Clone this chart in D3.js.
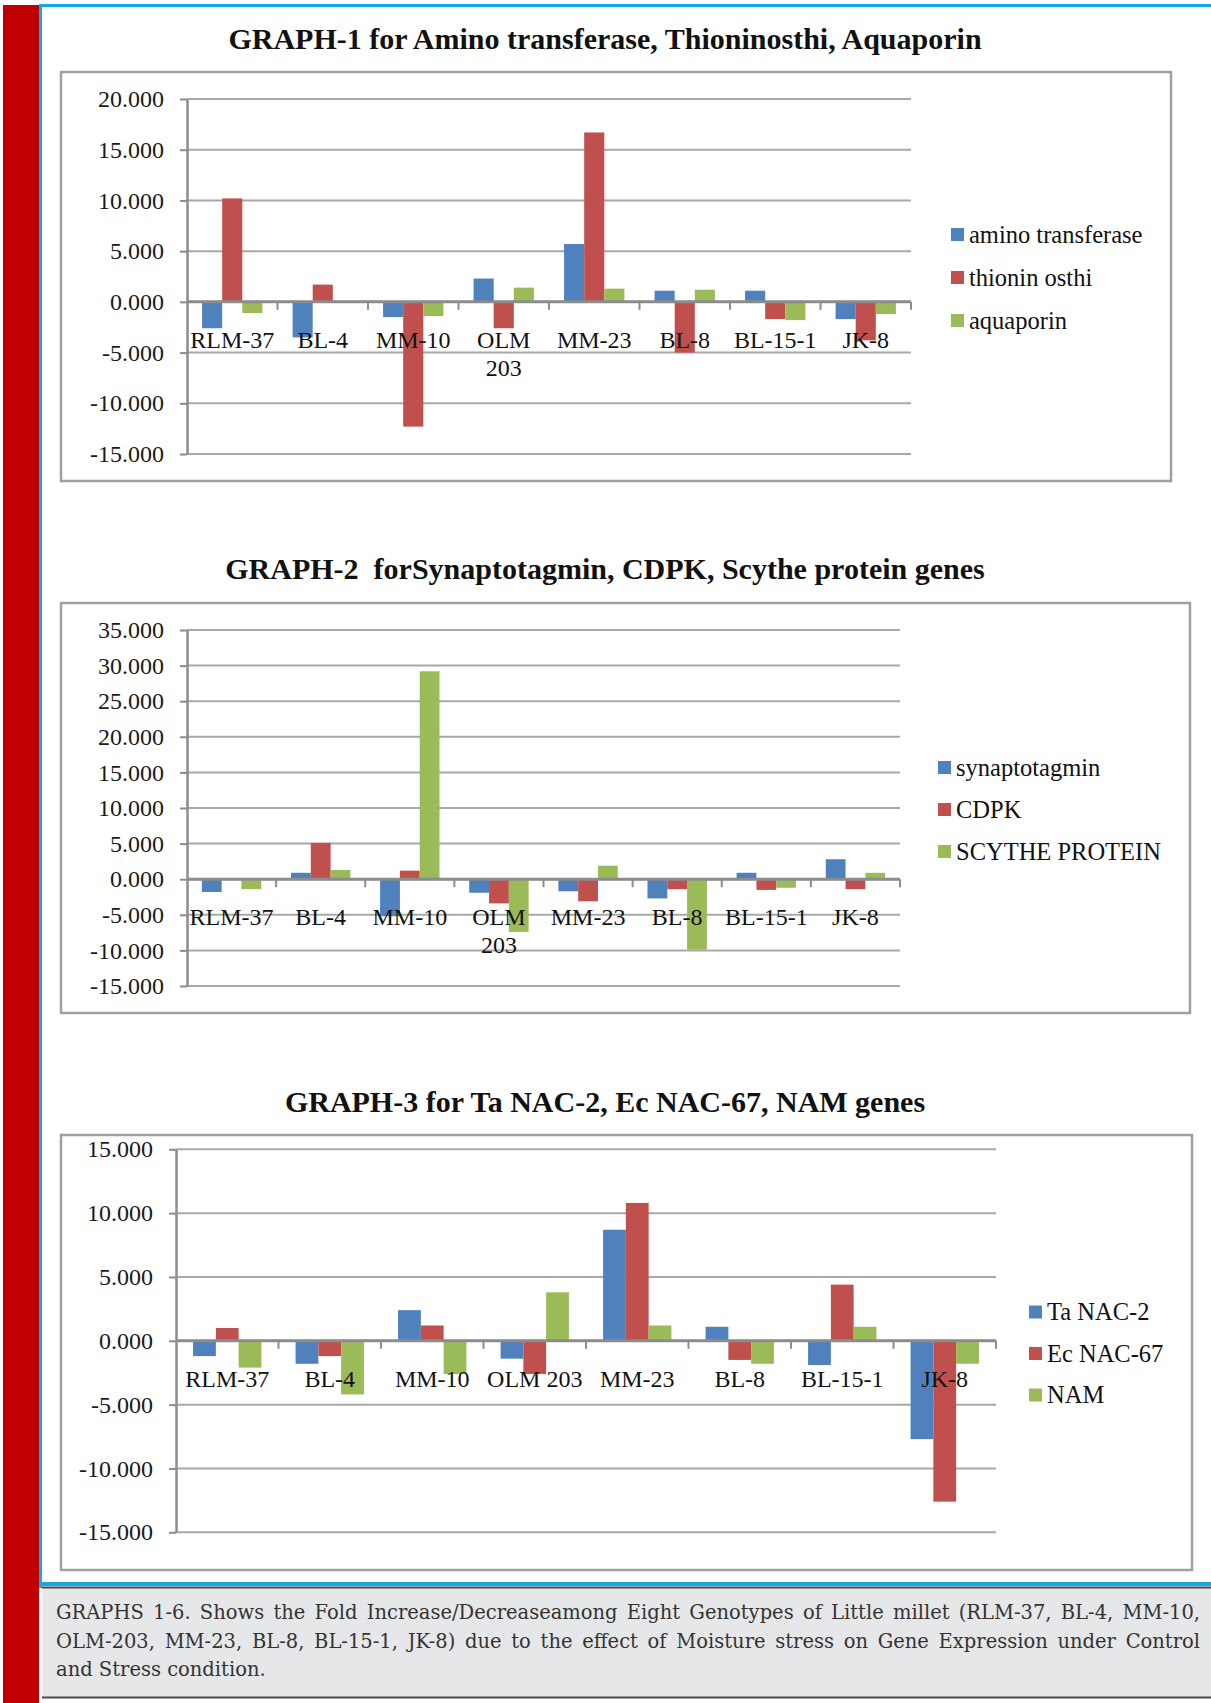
<!DOCTYPE html>
<html>
<head>
<meta charset="utf-8">
<script src="https://cdn.jsdelivr.net/npm/d3@7"></script>
<style>
  body { margin: 0; background: #fff; }
  svg { display: block; }
</style>
</head>
<body>
<svg id="page" width="1211" height="1703"></svg>
<script>
// Genotypes shared by all three graphs
const genotypes = ["RLM-37", "BL-4", "MM-10", "OLM 203", "MM-23", "BL-8", "BL-15-1", "JK-8"];
const seriesColors = ["#4f81bd", "#c0504d", "#9bbb59"];

// GRAPH-1
const graph1Title = "GRAPH-1 for Amino transferase, Thioninosthi, Aquaporin";
const graph1Series = ["amino transferase", "thionin osthi", "aquaporin"];
const aminoTransferase = [-2.6, -3.5, -1.5, 2.3, 5.7, 1.1, 1.1, -1.7];
const thioninOsthi     = [10.2, 1.7, -12.3, -2.6, 16.7, -5.0, -1.7, -3.8];
const aquaporin        = [-1.1, 0.0, -1.4, 1.4, 1.3, 1.2, -1.8, -1.2];
const graph1Ticks = [-15, -10, -5, 0, 5, 10, 15, 20];

// GRAPH-2
const graph2Title = "GRAPH-2  forSynaptotagmin, CDPK, Scythe protein genes";
const graph2Series = ["synaptotagmin", "CDPK", "SCYTHE PROTEIN"];
const synaptotagmin = [-1.8, 0.9, -5.2, -1.9, -1.7, -2.7, 0.9, 2.8];
const cdpk          = [0.0, 5.1, 1.2, -3.4, -3.1, -1.4, -1.5, -1.4];
const scytheProtein = [-1.4, 1.3, 29.2, -7.4, 1.9, -9.9, -1.2, 0.9];
const graph2Ticks = [-15, -10, -5, 0, 5, 10, 15, 20, 25, 30, 35];

// GRAPH-3
const graph3Title = "GRAPH-3 for Ta NAC-2, Ec NAC-67, NAM genes";
const graph3Series = ["Ta NAC-2", "Ec NAC-67", "NAM"];
const taNac2  = [-1.2, -1.8, 2.4, -1.4, 8.7, 1.1, -1.9, -7.7];
const ecNac67 = [1.0, -1.2, 1.2, -2.6, 10.8, -1.5, 4.4, -12.6];
const nam     = [-2.1, -4.2, -2.6, 3.8, 1.2, -1.8, 1.1, -1.8];
const graph3Ticks = [-15, -10, -5, 0, 5, 10, 15];

const captionLines = [
  "GRAPHS 1-6. Shows the Fold Increase/Decreaseamong Eight Genotypes of Little millet (RLM-37, BL-4, MM-10,",
  "OLM-203, MM-23, BL-8, BL-15-1, JK-8) due to the effect of Moisture stress on Gene Expression under Control",
  "and Stress condition."
];

const charts = [
  { title: graph1Title, series: graph1Series, values: [aminoTransferase, thioninOsthi, aquaporin], ticks: graph1Ticks,
    titleY: 49, box: { x: 61, y: 72, w: 1110, h: 409 },
    plot: { left: 187, right: 911, top: 99, bottom: 454 }, legend: { x: 951, y: 234.5, gap: 43 } },
  { title: graph2Title, series: graph2Series, values: [synaptotagmin, cdpk, scytheProtein], ticks: graph2Ticks,
    titleY: 579, box: { x: 61, y: 603, w: 1129, h: 410 },
    plot: { left: 187, right: 900, top: 630, bottom: 986 }, legend: { x: 938, y: 767.5, gap: 42 } },
  { title: graph3Title, series: graph3Series, values: [taNac2, ecNac67, nam], ticks: graph3Ticks,
    titleY: 1112, box: { x: 61, y: 1135, w: 1131, h: 435 },
    plot: { left: 176, right: 996, top: 1149.3, bottom: 1532.3 }, legend: { x: 1029, y: 1312, gap: 41.5 } }
];

const svg = d3.select("#page");
const serif = "'Liberation Serif', 'Times New Roman', serif";
const fmt = v => d3.format(".3f")(v).replace("\u2212", "-");

// page decoration: red side band and blue frame
svg.append("rect").attr("x", 3).attr("y", 5).attr("width", 36).attr("height", 1698).attr("fill", "#c00000");
svg.append("rect").attr("x", 39).attr("y", 4).attr("width", 1172).attr("height", 3).attr("fill", "#13a8e6");
svg.append("rect").attr("x", 39).attr("y", 4).attr("width", 3).attr("height", 1584).attr("fill", "#13a8e6");
svg.append("rect").attr("x", 39).attr("y", 1582).attr("width", 1172).attr("height", 4).attr("fill", "#13a8e6");

function drawChart(c) {
  const g = svg.append("g");

  g.append("rect")
    .attr("x", c.box.x).attr("y", c.box.y).attr("width", c.box.w).attr("height", c.box.h)
    .attr("fill", "#fff").attr("stroke", "#a0a0a0").attr("stroke-width", 2.5);

  g.append("text")
    .attr("x", 605).attr("y", c.titleY)
    .attr("text-anchor", "middle")
    .attr("font-family", serif).attr("font-weight", "bold").attr("font-size", 30)
    .style("white-space", "pre")
    .attr("fill", "#111")
    .text(c.title);

  const y = d3.scaleLinear().domain(d3.extent(c.ticks)).range([c.plot.bottom, c.plot.top]);
  const x0 = d3.scaleBand().domain(genotypes).range([c.plot.left, c.plot.right])
    .paddingInner(1 / 3).paddingOuter(1 / 6);
  const x1 = d3.scaleBand().domain(c.series).range([0, x0.bandwidth()]);

  // horizontal gridlines
  g.append("g").selectAll("line").data(c.ticks).join("line")
    .attr("x1", c.plot.left).attr("x2", c.plot.right)
    .attr("y1", d => y(d)).attr("y2", d => y(d))
    .attr("stroke", "#a8a8a8").attr("stroke-width", 2);

  // bars
  c.series.forEach((s, si) => {
    g.append("g").attr("fill", seriesColors[si])
      .selectAll("rect").data(c.values[si]).join("rect")
      .attr("x", (d, i) => x0(genotypes[i]) + x1(s))
      .attr("width", x1.bandwidth())
      .attr("y", d => y(Math.max(0, d)))
      .attr("height", d => Math.abs(y(d) - y(0)));
  });

  // value axis
  const ya = g.append("g").attr("transform", `translate(${c.plot.left},0)`)
    .call(d3.axisLeft(y).tickValues(c.ticks).tickFormat(fmt).tickSize(7).tickSizeOuter(0).tickPadding(16));
  ya.select(".domain").attr("stroke", "#8c8c8c").attr("stroke-width", 2.5);
  ya.selectAll(".tick line").attr("stroke", "#8c8c8c").attr("stroke-width", 2);
  ya.selectAll(".tick text").attr("font-family", serif).attr("font-size", 24).attr("fill", "#1a1a1a");

  // category axis along zero
  const y0 = y(0);
  g.append("line").attr("x1", c.plot.left).attr("x2", c.plot.right).attr("y1", y0).attr("y2", y0)
    .attr("stroke", "#8c8c8c").attr("stroke-width", 3);
  const step = x0.step();
  g.append("g").selectAll("line").data(genotypes).join("line")
    .attr("x1", d => x0(d) + x0.bandwidth() + step / 6)
    .attr("x2", d => x0(d) + x0.bandwidth() + step / 6)
    .attr("y1", y0).attr("y2", y0 + 8)
    .attr("stroke", "#8c8c8c").attr("stroke-width", 2);

  const labels = g.append("g").attr("font-family", serif).attr("font-size", 24)
    .attr("fill", "#111").attr("text-anchor", "middle");
  genotypes.forEach(name => {
    const cx = x0(name) + x0.bandwidth() / 2;
    const t = labels.append("text").attr("x", cx).attr("y", y0 + 46).text(name);
    if (t.node().getComputedTextLength() > step - 2 && name.includes(" ")) {
      t.text(null);
      name.split(" ").forEach((w, k) => {
        t.append("tspan").attr("x", cx).attr("dy", k === 0 ? 0 : 28).text(w);
      });
    }
  });

  // legend
  const lg = g.append("g").attr("font-family", serif).attr("font-size", 24.5).attr("fill", "#111");
  c.series.forEach((s, si) => {
    const ly = c.legend.y + si * c.legend.gap;
    lg.append("rect").attr("x", c.legend.x).attr("y", ly - 6.5).attr("width", 13).attr("height", 13)
      .attr("fill", seriesColors[si]);
    lg.append("text").attr("x", c.legend.x + 18).attr("y", ly).attr("dy", "0.33em").text(s);
  });
}

charts.forEach(drawChart);

// caption panel
svg.append("rect").attr("x", 42).attr("y", 1587).attr("width", 1169).attr("height", 111).attr("fill", "#e6e7e8");
svg.append("line").attr("x1", 42).attr("x2", 1211).attr("y1", 1587.5).attr("y2", 1587.5)
  .attr("stroke", "#4a4a4a").attr("stroke-width", 2);
svg.append("line").attr("x1", 42).attr("x2", 1211).attr("y1", 1697.5).attr("y2", 1697.5)
  .attr("stroke", "#4a4a4a").attr("stroke-width", 2);

const capLeft = 56, capRight = 1200;
const cap = svg.append("g")
  .attr("font-family", "'DejaVu Serif', serif")
  .attr("font-size", 19.5).attr("fill", "#333");
captionLines.forEach((line, i) => {
  const t = cap.append("text").attr("x", capLeft).attr("y", 1619 + i * 28.5).text(line);
  if (i < captionLines.length - 1) {
    const natural = t.node().getComputedTextLength();
    const spaces = (line.match(/ /g) || []).length;
    const extra = (capRight - capLeft) - natural;
    if (extra >= 0) t.attr("word-spacing", extra / spaces);
    else t.attr("textLength", capRight - capLeft).attr("lengthAdjust", "spacingAndGlyphs");
  }
});
</script>
</body>
</html>
